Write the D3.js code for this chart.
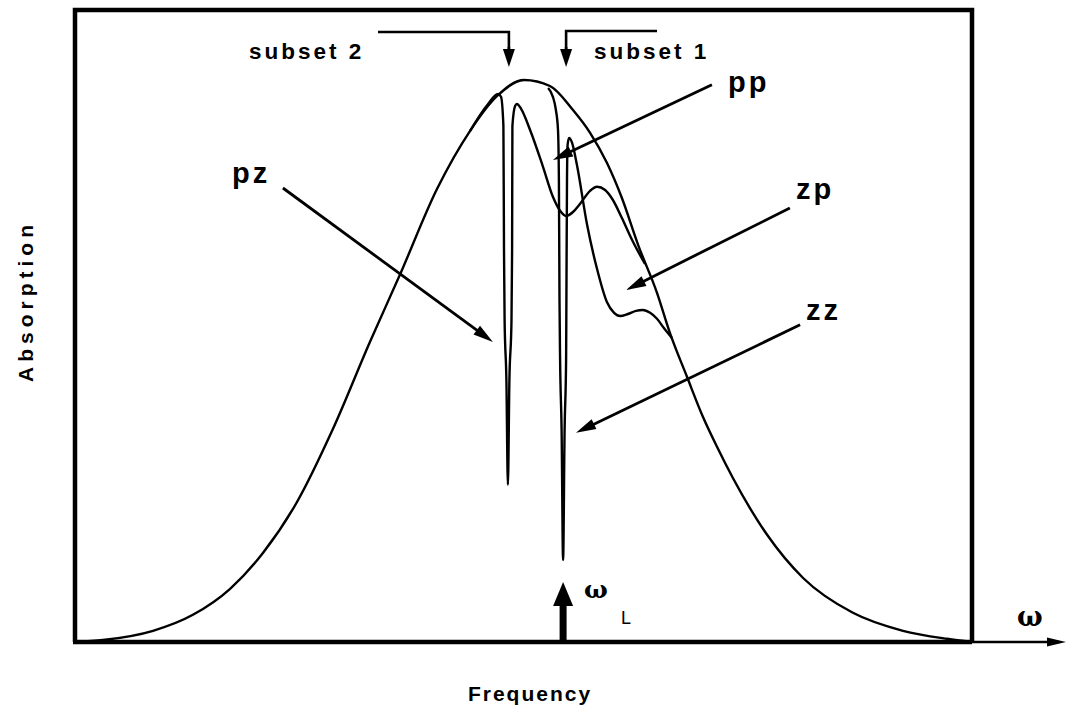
<!DOCTYPE html>
<html>
<head>
<meta charset="utf-8">
<script src="https://cdn.jsdelivr.net/npm/d3@7"></script>
<style>
  html, body { margin: 0; padding: 0; background: #fff; }
  svg { display: block; }
  text { fill: #000; }
</style>
</head>
<body>
<svg id="chart" width="1069" height="707"></svg>
<script>
// Inhomogeneous absorption band (frequency, absorption in arbitrary units)
const envelope = [
  [0, 0], [9.3, 0.5], [26, 2.8], [39.3, 6.8], [51.7, 13.3], [62.7, 22.3],
  [74, 35], [86, 53.3], [98.3, 75], [108.3, 91.8], [120.7, 113.3],
  [131.7, 127.8], [140.7, 136.5], [149.7, 140.5], [158.3, 139], [166, 133],
  [171.7, 127.3], [177.3, 119.8], [182.3, 111], [187.7, 99.3], [194, 87.3],
  [198.3, 77.3], [204, 66.3], [209.3, 56.3], [214, 48.8], [219.3, 41],
  [230.7, 26.8], [242.7, 16], [259.3, 7.3], [276, 2.8], [290.7, 0.8], [299, 0]
];

// Spectrum with the narrow hole of subset 2 and the broad side structure
const subsetTwoSpectrum = [
  [131.7, 127.8], [137.7, 134.5], [141, 137], [142, 136.3], [142.8, 129],
  [143, 98], [143.2, 80.5], [143.8, 65.5], [144.3, 39.3], [144.8, 65.5],
  [145.5, 80.5], [145.7, 98], [145.8, 129], [146.7, 134], [147.3, 134.5],
  [148.7, 133.3], [151.7, 128], [156, 118.8], [159.3, 111.3], [161.7, 107.8],
  [163.7, 106.5], [166, 107.5], [168.3, 109.5], [171.7, 112.8], [174, 113.8],
  [176.7, 113], [179.3, 110.5], [182.3, 106], [185.7, 100.5], [190, 94.5]
];

// Spectrum with the narrow hole of subset 1 at the laser frequency
const subsetOneSpectrum = [
  [157.7, 138.5], [159.3, 136.3], [160.3, 133], [161, 128], [161.3, 115.5],
  [161.5, 85.5], [161.7, 70.5], [162.2, 53], [162.7, 20.5], [163.2, 53],
  [163.7, 70.5], [163.8, 85.5], [164, 115.5], [164.2, 124.3], [164.7, 126],
  [165.7, 124.8], [167.3, 119.3], [170.7, 104.3], [174, 93.3], [177.3, 85],
  [179.7, 82.3], [181.7, 81.5], [184.3, 82], [187, 82.8], [189.3, 83],
  [191.7, 82.3], [194, 80.8], [196.3, 78.5], [199, 76]
];

const omegaL = 162.7;      // laser frequency (subset 1 hole)
const subsetTwoHole = 144.3;
const curveLabels = ["pz", "pp", "zp", "zz"];
const subsetLabels = ["subset 2", "subset 1"];
const axisTitles = ["Frequency", "Absorption"];

const svg = d3.select("#chart");
const x = d3.scaleLinear().domain([0, 299]).range([75, 972]);
const y = d3.scaleLinear().domain([0, 158]).range([642, 10]);

const line = d3.line()
  .x(d => x(d[0]))
  .y(d => y(d[1]))
  .curve(d3.curveMonotoneX);

// arrow with a filled triangular head, coordinates in pixels
function arrow(g, x1, y1, x2, y2, o) {
  const w = o.w || 2.6, len = o.len || 18, half = o.half || 5.5;
  const dx = x2 - x1, dy = y2 - y1, L = Math.hypot(dx, dy);
  const ux = dx / L, uy = dy / L;
  const bx = x2 - ux * len, by = y2 - uy * len;
  g.append("line")
    .attr("x1", x1).attr("y1", y1)
    .attr("x2", bx + ux * 3).attr("y2", by + uy * 3)
    .attr("stroke", "#000").attr("stroke-width", w);
  g.append("path")
    .attr("d", `M${x2},${y2}L${bx - uy * half},${by + ux * half}L${bx + uy * half},${by - ux * half}Z`)
    .attr("fill", "#000");
}

// spectra
const curves = svg.append("g").attr("fill", "none").attr("stroke", "#000")
  .attr("stroke-width", 2.4).attr("stroke-linejoin", "round");
curves.append("path").attr("d", line(envelope));
curves.append("path").attr("d", line(subsetTwoSpectrum));
curves.append("path").attr("d", line(subsetOneSpectrum));

// frame
const x0 = x(0), x1 = x(299), yb = y(0), yt = y(158);
svg.append("path")
  .attr("d", `M${x0},${yb}L${x0},${yt}L${x1},${yt}L${x1},${yb}`)
  .attr("fill", "none").attr("stroke", "#000").attr("stroke-width", 4.5);
svg.append("line").attr("x1", x0 - 2).attr("x2", x1).attr("y1", yb).attr("y2", yb)
  .attr("stroke", "#000").attr("stroke-width", 4.5);

// frequency axis arrow beyond the frame
const ax = svg.append("g");
arrow(ax, x1, yb, 1066, yb, { w: 2.6, len: 19, half: 4.5 });
ax.append("text").attr("x", 1017).attr("y", 626)
  .attr("font-family", "DejaVu Serif, serif").attr("font-size", 27).attr("font-weight", "bold")
  .text("\u03C9");

// laser frequency marker
const lg = svg.append("g");
arrow(lg, x(omegaL), yb, x(omegaL), 582, { w: 7, len: 24, half: 10 });
lg.append("text").attr("x", 584).attr("y", 598)
  .attr("font-family", "DejaVu Serif, serif").attr("font-size", 25).attr("font-weight", "bold")
  .text("\u03C9");
lg.append("text").attr("x", 621).attr("y", 624)
  .attr("font-family", "Liberation Sans, Arial, sans-serif").attr("font-size", 18)
  .text("L");

// subset brackets
const sb = svg.append("g");
const bracketY = 32, tipY = 67;
sb.append("path")
  .attr("d", `M378,${bracketY}L${x(subsetTwoHole) + 1},${bracketY}L${x(subsetTwoHole) + 1},${tipY - 15}`)
  .attr("fill", "none").attr("stroke", "#000").attr("stroke-width", 2.6);
arrow(sb, x(subsetTwoHole) + 1, tipY - 20, x(subsetTwoHole) + 1, tipY, { w: 2.6, len: 18, half: 6 });
sb.append("path")
  .attr("d", `M657,${bracketY - 1}L${x(omegaL) + 3},${bracketY - 1}L${x(omegaL) + 3},${tipY - 15}`)
  .attr("fill", "none").attr("stroke", "#000").attr("stroke-width", 2.6);
arrow(sb, x(omegaL) + 3, tipY - 20, x(omegaL) + 3, tipY, { w: 2.6, len: 18, half: 6 });

const labelFont = "Liberation Sans, Arial, sans-serif";
sb.append("text").attr("x", 249).attr("y", 59)
  .attr("font-family", labelFont).attr("font-size", 22.5).attr("font-weight", "bold")
  .attr("letter-spacing", 3).text(subsetLabels[0]);
sb.append("text").attr("x", 594).attr("y", 59)
  .attr("font-family", labelFont).attr("font-size", 22.5).attr("font-weight", "bold")
  .attr("letter-spacing", 3).text(subsetLabels[1]);

// curve labels and their pointers (data units)
const pointers = [
  { label: curveLabels[0], tx: 232, ty: 183, from: [69.3, 113.5], to: [139.3, 75] },
  { label: curveLabels[1], tx: 728, ty: 92, from: [212.3, 139.3], to: [159.3, 120.5] },
  { label: curveLabels[2], tx: 796, ty: 199, from: [238.3, 108.5], to: [183.7, 88] },
  { label: curveLabels[3], tx: 806, ty: 320, from: [241.7, 79.3], to: [167, 52.3] }
];
const pg = svg.append("g");
pointers.forEach(p => {
  pg.append("text").attr("x", p.tx).attr("y", p.ty)
    .attr("font-family", labelFont).attr("font-size", 29).attr("font-weight", "bold")
    .attr("letter-spacing", 3).text(p.label);
  arrow(pg, x(p.from[0]), y(p.from[1]), x(p.to[0]), y(p.to[1]), { w: 2.8, len: 20, half: 5.5 });
});

// axis titles
svg.append("text").attr("x", 530).attr("y", 701).attr("text-anchor", "middle")
  .attr("font-family", labelFont).attr("font-size", 21).attr("font-weight", "bold")
  .attr("letter-spacing", 2).text(axisTitles[0]);
svg.append("text").attr("transform", "translate(33,301) rotate(-90)")
  .attr("text-anchor", "middle")
  .attr("font-family", labelFont).attr("font-size", 21).attr("font-weight", "bold")
  .attr("letter-spacing", 5).text(axisTitles[1]);
</script>
</body>
</html>
